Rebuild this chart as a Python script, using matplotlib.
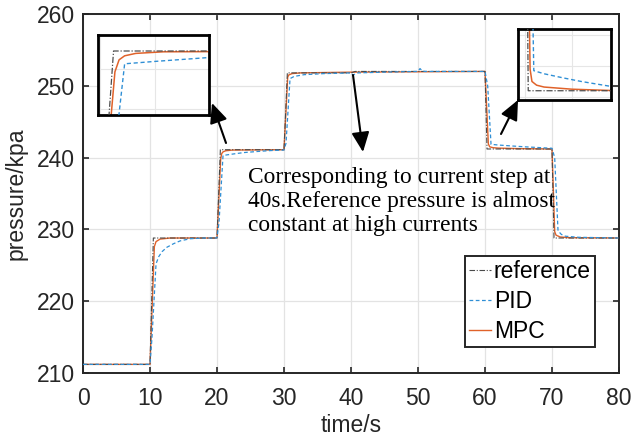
import matplotlib
matplotlib.use("Agg")
import matplotlib.pyplot as plt

# ---- data ----
ref_t = [0, 10, 10.5, 20, 20.5, 30, 30.5, 40, 40.6, 60, 60.3, 70, 70.3, 80]
ref_p = [211.2, 211.2, 228.8, 228.8, 241.1, 241.1, 251.8, 251.8, 252.0, 252.0,
         241.2, 241.2, 228.8, 228.8]

mpc_t = [0, 10, 10.65, 10.9, 11.5, 13, 20, 20.55, 20.7, 20.9, 21.3, 22.3, 30,
         30.55, 30.7, 31.2, 32.5, 40, 60, 60.5, 60.7, 61.2, 62, 65, 70, 70.4,
         70.6, 71.2, 72.5, 80]
mpc_p = [211.2, 211.2, 227.6, 228.3, 228.65, 228.8, 228.8, 239.8, 240.55, 240.8,
         240.95, 241.05, 241.1, 251.2, 251.5, 251.7, 251.8, 251.9, 252.0, 241.9,
         241.5, 241.38, 241.32, 241.25, 241.2, 229.7, 229.2, 228.95, 228.85, 228.8]

pid_t = [0, 10, 10.3, 10.9, 11.3, 11.8, 12.5, 13.5, 14.5, 16, 18, 20, 20.3, 20.9,
         22, 24, 26, 28, 30, 30.3, 30.9, 31.5, 33, 36, 40, 40.3, 41, 45, 50,
         50.3, 50.6, 51, 55, 60, 60.4, 60.9, 62, 64, 66, 68, 70, 70.4, 70.9,
         71.4, 72, 74, 80]
pid_p = [211.2, 211.2, 215.0, 225.2, 226.2, 226.9, 227.5, 228.0, 228.4, 228.7,
         228.8, 228.8, 231.0, 240.3, 240.45, 240.7, 240.85, 240.98, 241.05, 242.0,
         251.0, 251.3, 251.55, 251.7, 251.8, 251.5, 251.8, 251.9, 252.0,
         252.4, 252.1, 252.0, 252.0, 252.0, 250.0, 241.85, 241.75, 241.62, 241.5,
         241.4, 241.3, 240.0, 229.8, 229.3, 229.05, 228.9, 228.8]

x_ticks = [0, 10, 20, 30, 40, 50, 60, 70, 80]
y_ticks = [210, 220, 230, 240, 250, 260]
labels = ["reference", "PID", "MPC"]
note = "Corresponding to current step at\n40s.Reference pressure is almost\nconstant at high currents"

REF_C = "#4a4a4a"
PID_C = "#2f8fd5"
MPC_C = "#e0622a"

plt.rcParams["font.family"] = ["Liberation Sans", "DejaVu Sans"]

W, H = 633, 448
fig = plt.figure(figsize=(W / 100, H / 100), dpi=100)
ax = fig.add_axes([83 / W, 1 - 373 / H, (619 - 83) / W, (373 - 14) / H])


def draw(a, lw_scale=1.0):
    a.plot(ref_t, ref_p, color=REF_C, lw=0.8 * lw_scale, ls=(0, (5, 1.5, 1, 1.5)),
           label=labels[0], zorder=3)
    a.plot(pid_t, pid_p, color=PID_C, lw=0.9 * lw_scale, ls=(0, (3, 2)),
           label=labels[1], zorder=3)
    a.plot(mpc_t, mpc_p, color=MPC_C, lw=1.0 * lw_scale, ls="-",
           label=labels[2], zorder=2)


draw(ax)
ax.set_xlim(0, 80)
ax.set_ylim(210, 260)
ax.set_xticks(x_ticks)
ax.set_yticks(y_ticks)
ax.grid(True, color="#e3e3e3", lw=0.9)
ax.set_axisbelow(True)
ax.tick_params(direction="in", length=4, width=1.2, top=True, right=True,
               labelsize=16.5, colors="#262626")
ax.tick_params(axis="x", pad=10)
ax.tick_params(axis="y", pad=5.5)
for s in ax.spines.values():
    s.set_linewidth(1.4)
    s.set_color("#262626")
ax.set_xlabel("time/s", fontsize=16.5, color="#262626", labelpad=3)
ax.set_ylabel("pressure/kpa", fontsize=16.5, color="#262626", labelpad=7)

leg = ax.legend(loc="lower right", bbox_to_anchor=(0.955, 0.072), fontsize=16.5,
                handlelength=0.95, handletextpad=0.12, borderpad=0.18,
                labelspacing=0.3, borderaxespad=0, fancybox=False,
                framealpha=1, edgecolor="#262626")
leg.get_frame().set_linewidth(1.4)

# insets
ins1 = fig.add_axes([98 / W, 1 - 115 / H, 111 / W, 80 / H])
draw(ins1, 1.1)
ins1.set_xlim(19.94, 23.94)
ins1.set_ylim(237.1, 242.1)
ins2 = fig.add_axes([518 / W, 1 - 100 / H, 93 / W, 71 / H])
draw(ins2, 1.1)
ins2.set_xlim(59.2, 69.2)
ins2.set_ylim(240.9, 243.2)
for a in (ins1, ins2):
    a.grid(True, color="#e6e6e6", lw=0.8)
    a.set_axisbelow(True)
    a.tick_params(length=0, labelbottom=False, labelleft=False)
    for s in a.spines.values():
        s.set_linewidth(2.0)
        s.set_color("black")

# arrows
arrow_kw = dict(arrowstyle="-|>,head_length=1.0,head_width=0.45", lw=1.5,
                color="black", mutation_scale=12, shrinkA=0, shrinkB=0)
for tip, tail in [((212, 345), (226, 305)), ((363, 296), (353, 373)),
                  ((518, 348), (501, 314))]:
    ax.annotate("", xy=tip, xycoords="figure pixels", xytext=tail,
                textcoords="figure pixels", arrowprops=arrow_kw)

fig.text(248 / W, 1 - 167 / H, note, family=["Liberation Serif", "DejaVu Serif"],
         fontsize=16.8, ha="left", va="top", linespacing=1.2)

fig.savefig("out.png", dpi=100)
